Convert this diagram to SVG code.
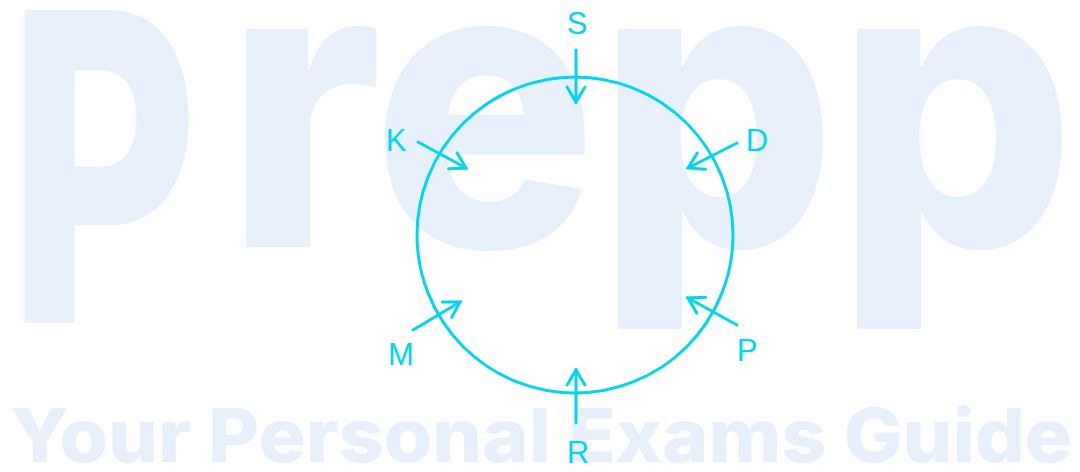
<svg xmlns="http://www.w3.org/2000/svg" width="1080" height="472" viewBox="0 0 1080 472">
  <style>
    .wm { fill: #e8f0fb; font-family: Inter, "Open Sans", "Liberation Sans", sans-serif; font-weight: 800; }
    .ring { fill: none; stroke: #00d6ee; stroke-width: 3; }
    .arrow { fill: none; stroke: #00d6ee; stroke-width: 3; stroke-linecap: round; marker-end: url(#head); }
    .lbl { fill: #00d6ee; font-family: "Liberation Sans", Arial, sans-serif; font-size: 31px; text-anchor: middle; }
  </style>
  <defs>
    <marker id="head" markerUnits="userSpaceOnUse" markerWidth="24" markerHeight="24" refX="0" refY="0" viewBox="-20 -12 24 24" orient="auto">
      <path d="M-15,-9 L0,0 L-15,9" fill="none" stroke="#00d6ee" stroke-width="3" stroke-linecap="round" stroke-linejoin="miter"/>
    </marker>
  </defs>
  <rect width="1080" height="472" fill="#ffffff"/>
  <g id="watermark">
    <text class="wm" x="8" y="323" font-size="430" textLength="190" lengthAdjust="spacingAndGlyphs">P</text>
    <text class="wm" x="225" y="247" font-size="400" textLength="850" lengthAdjust="spacingAndGlyphs">repp</text>
    <text class="wm" x="10" y="462" font-size="74" textLength="1062" lengthAdjust="spacingAndGlyphs">Your Personal Exams Guide</text>
  </g>
  <g id="circle">
    <circle class="ring" cx="575" cy="235" r="158"/>
  </g>
  <g id="connectors">
    <line class="arrow" x1="576" y1="50" x2="576" y2="102"/>
    <line class="arrow" x1="418" y1="142" x2="466" y2="168"/>
    <line class="arrow" x1="737" y1="143" x2="688" y2="168"/>
    <line class="arrow" x1="413" y1="330" x2="460" y2="302"/>
    <line class="arrow" x1="737" y1="325" x2="688" y2="298"/>
    <line class="arrow" x1="576" y1="423" x2="576" y2="370"/>
  </g>
  <g id="node-S"><text class="lbl" x="577" y="34">S</text></g>
  <g id="node-K"><text class="lbl" x="396" y="151">K</text></g>
  <g id="node-D"><text class="lbl" x="757" y="151">D</text></g>
  <g id="node-M"><text class="lbl" x="401" y="365">M</text></g>
  <g id="node-P"><text class="lbl" x="747" y="361">P</text></g>
  <g id="node-R"><text class="lbl" x="578" y="463">R</text></g>
</svg>
